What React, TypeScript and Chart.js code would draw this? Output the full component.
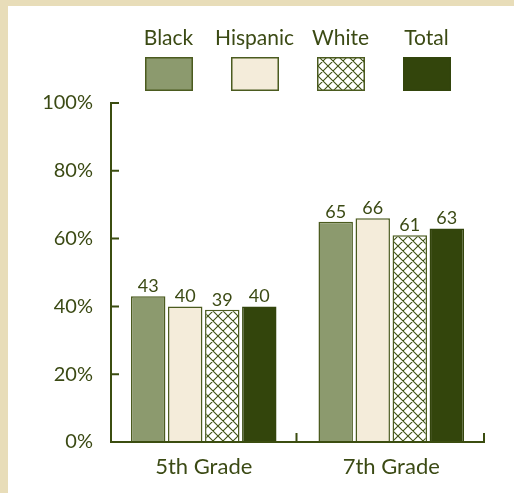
import React, { useEffect, useRef } from 'react';
import { Chart, registerables } from 'chart.js';

Chart.register(...registerables);

const categories = ['5th Grade', '7th Grade'];
const seriesNames = ['Black', 'Hispanic', 'White', 'Total'];
const blackValues = [43, 65];
const hispanicValues = [40, 66];
const whiteValues = [39, 61];
const totalValues = [40, 63];
const yTickValues = [0, 20, 40, 60, 80, 100];

const TEXT = '#3b4a14';
const AXIS = '#3b4d10';
const BORDER = '#4b5b1f';
const FONT = 'Lato, "Noto Sans", sans-serif';

function makeHatch(color: string): CanvasPattern | string {
  const c = document.createElement('canvas');
  c.width = 10;
  c.height = 10;
  const g = c.getContext('2d');
  if (!g) return '#fff';
  g.fillStyle = '#ffffff';
  g.fillRect(0, 0, 10, 10);
  g.strokeStyle = color;
  g.lineWidth = 1.1;
  g.beginPath();
  for (const off of [-10, 0, 10]) {
    g.moveTo(-2, -2 + off);
    g.lineTo(12, 12 + off);
    g.moveTo(12, -2 + off);
    g.lineTo(-2, 12 + off);
  }
  g.stroke();
  return g.createPattern(c, 'repeat') || '#fff';
}

export default function App() {
  const ref = useRef<HTMLCanvasElement | null>(null);

  useEffect(() => {
    document.body.style.margin = '0';
    document.body.style.background = '#ffffff';
    document.documentElement.style.overflow = 'hidden';
    const canvas = ref.current;
    if (!canvas) return;
    const hatch = makeHatch('#3f5214');
    const fills: any[] = ['#8c9a6e', '#f4ecda', hatch, '#33450c'];
    const borders = [BORDER, BORDER, BORDER, '#33450c'];
    const seriesValues = [blackValues, hispanicValues, whiteValues, totalValues];

    const customDraw = {
      id: 'customDraw',
      afterDatasetsDraw(chart: any) {
        const ctx = chart.ctx;
        ctx.save();
        ctx.fillStyle = TEXT;
        ctx.font = `18px ${FONT}`;
        ctx.textAlign = 'center';
        ctx.textBaseline = 'alphabetic';
        chart.data.datasets.forEach((ds: any, di: number) => {
          const meta = chart.getDatasetMeta(di);
          meta.data.forEach((el: any, i: number) => {
            ctx.fillText(String(ds.data[i]), el.x, el.y - 4);
          });
        });
        ctx.restore();
      },
      afterDraw(chart: any) {
        const ctx = chart.ctx;
        const area = chart.chartArea;
        const y = chart.scales.y;
        const x = chart.scales.x;
        ctx.save();
        ctx.strokeStyle = AXIS;
        ctx.lineWidth = 2;
        ctx.lineCap = 'butt';
        ctx.beginPath();
        ctx.moveTo(area.left + 1, y.getPixelForValue(100) - 1);
        ctx.lineTo(area.left + 1, y.getPixelForValue(0) + 1);
        yTickValues.forEach((v) => {
          if (v === 0) return;
          const py = y.getPixelForValue(v);
          ctx.moveTo(area.left, py);
          ctx.lineTo(area.left + 9, py);
        });
        const by = y.getPixelForValue(0);
        ctx.moveTo(area.left, by);
        ctx.lineTo(area.right, by);
        const n = categories.length;
        for (let i = 0; i < n; i++) {
          const c = x.getPixelForValue(i);
          const half = (area.right - area.left) / n / 2;
          const bx = c + half - 1;
          ctx.moveTo(bx, by);
          ctx.lineTo(bx, by - 9);
        }
        ctx.stroke();

        const cx = (area.left + area.right) / 2;
        const spacing = 86;
        const count = chart.data.datasets.length;
        chart.data.datasets.forEach((ds: any, di: number) => {
          const center = cx + (di - (count - 1) / 2) * spacing;
          ctx.fillStyle = TEXT;
          ctx.font = `21px ${FONT}`;
          ctx.textAlign = 'center';
          ctx.textBaseline = 'alphabetic';
          ctx.fillText(ds.label, center, 39);
          const bw = 48;
          const bh = 34;
          const bx = Math.round(center - bw / 2);
          const byy = 51;
          ctx.fillStyle = ds.backgroundColor;
          ctx.fillRect(bx, byy, bw, bh);
          ctx.strokeStyle = ds.borderColor;
          ctx.lineWidth = 1.5;
          ctx.strokeRect(bx + 0.75, byy + 0.75, bw - 1.5, bh - 1.5);
        });
        ctx.restore();
      },
    };

    const chart = new Chart(canvas, {
      type: 'bar',
      data: {
        labels: categories,
        datasets: seriesNames.map((name, i) => ({
          label: name,
          data: seriesValues[i],
          backgroundColor: fills[i],
          borderColor: borders[i],
          borderWidth: 1.5,
          categoryPercentage: 0.79,
          barPercentage: 0.93,
        })),
      },
      options: {
        animation: false,
        responsive: false,
        maintainAspectRatio: false,
        layout: { padding: { top: 97, right: 29, left: 0, bottom: 0 } },
        plugins: {
          legend: { display: false },
          tooltip: { enabled: false },
        },
        scales: {
          x: {
            grid: { display: false, drawTicks: false },
            border: { display: false },
            ticks: { color: TEXT, font: { family: FONT, size: 22 }, padding: 12 },
            afterFit: (s: any) => {
              s.height = 51;
            },
          },
          y: {
            min: 0,
            max: 100,
            afterBuildTicks: (s: any) => {
              s.ticks = yTickValues.map((v) => ({ value: v }));
            },
            grid: { display: false, drawTicks: false },
            border: { display: false },
            ticks: {
              color: TEXT,
              font: { family: FONT, size: 20 },
              padding: 17,
              callback: (v: any) => `${v}%`,
            },
            afterFit: (s: any) => {
              s.width = 102;
            },
          },
        },
      },
      plugins: [customDraw],
    });
    return () => chart.destroy();
  }, []);

  return (
    <div
      style={{
        position: 'absolute',
        left: 0,
        top: 0,
        width: 514,
        height: 493,
        background: '#ffffff',
        overflow: 'hidden',
      }}
    >
      <div style={{ position: 'absolute', left: 0, top: 0, width: 514, height: 6, background: '#e8ddb9' }} />
      <div style={{ position: 'absolute', left: 0, top: 0, width: 8, height: 493, background: '#e8ddb9' }} />
      <canvas
        ref={ref}
        width={506}
        height={487}
        style={{ position: 'absolute', left: 8, top: 6, display: 'block' }}
      />
    </div>
  );
}
